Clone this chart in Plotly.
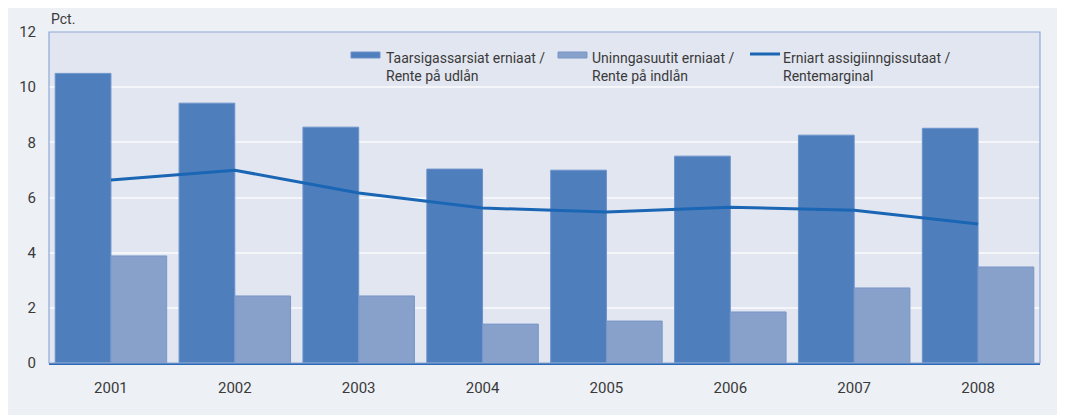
import plotly.graph_objects as go

years = ["2001", "2002", "2003", "2004", "2005", "2006", "2007", "2008"]
lending_rate = [10.5, 9.42, 8.55, 7.03, 6.99, 7.5, 8.26, 8.51]
deposit_rate = [3.88, 2.43, 2.43, 1.41, 1.52, 1.85, 2.72, 3.48]
margin = [6.63, 6.99, 6.16, 5.62, 5.47, 5.65, 5.54, 5.04]

names = [
    "Taarsigassarsiat erniaat /<br>Rente på udlån",
    "Uninngasuutit erniaat /<br>Rente på indlån",
    "Erniart assigiinngissutaat /<br>Rentemarginal",
]
y_ticks = [0, 2, 4, 6, 8, 10, 12]

FONT = "Roboto, Open Sans, sans-serif"
TXT = "#3a3a3a"
C_DARK, C_DARK_LINE = "#4f7ebd", "#6b93cc"
C_LIGHT, C_LIGHT_LINE = "#88a1cb", "#7896c9"
C_LINE = "#1a66b5"
PLOT_BG = "#e2e6f0"

W, H = 1055, 407
ML, MR, MT, MB = 41, 23, 24, 52
PW, PH = W - ML - MR, H - MT - MB


def px(x):
    return (x - ML) / PW


def py(y):
    return 1 - (y - MT) / PH


fig = go.Figure()
fig.add_trace(go.Bar(x=years, y=lending_rate, name=names[0],
                     marker=dict(color=C_DARK, line=dict(color=C_DARK_LINE, width=1))))
fig.add_trace(go.Bar(x=years, y=deposit_rate, name=names[1],
                     marker=dict(color=C_LIGHT, line=dict(color=C_LIGHT_LINE, width=1))))
fig.add_trace(go.Scatter(x=years, y=margin, name=names[2], mode="lines",
                         line=dict(color=C_LINE, width=3)))

# Legend (drawn manually to get the wide rectangular keys)
leg_sym_x = [550, 750, 742]
shapes = [
    # legend background hiding gridline
    dict(type="rect", xref="paper", yref="paper", layer="between",
         x0=px(318), x1=px(977), y0=py(86), y1=py(32),
         fillcolor=PLOT_BG, line=dict(width=0)),
    # plot border
    dict(type="rect", xref="paper", yref="paper", layer="above",
         x0=0, x1=1, y0=0, y1=1, fillcolor="rgba(0,0,0,0)",
         line=dict(color="#8fa8d6", width=1.2)),
    # keys
    dict(type="rect", xref="paper", yref="paper", layer="above",
         x0=px(343), x1=px(372), y0=py(50), y1=py(44),
         fillcolor=C_DARK, line=dict(color=C_DARK_LINE, width=1)),
    dict(type="rect", xref="paper", yref="paper", layer="above",
         x0=px(550), x1=px(579), y0=py(50), y1=py(44),
         fillcolor=C_LIGHT, line=dict(color=C_LIGHT_LINE, width=1)),
    dict(type="line", xref="paper", yref="paper", layer="above",
         x0=px(742), x1=px(772), y0=py(46), y1=py(46),
         line=dict(color=C_LINE, width=3)),
]

annotations = [
    dict(text="Pct.", xref="paper", yref="paper", x=0, y=1, xanchor="left",
         yanchor="bottom", showarrow=False, yshift=3,
         font=dict(family=FONT, size=14, color=TXT)),
]
for name, tx in zip(names, [378, 584, 775]):
    annotations.append(dict(text=name, xref="paper", yref="paper", x=px(tx), y=py(59.5),
                            xanchor="left", yanchor="middle", align="left",
                            showarrow=False, xshift=-2,
                            font=dict(family=FONT, size=14, color=TXT)))

fig.update_layout(
    width=W, height=H,
    margin=dict(l=ML, r=MR, t=MT, b=MB),
    paper_bgcolor="#edf0f5",
    plot_bgcolor=PLOT_BG,
    barmode="group", bargap=0.1, bargroupgap=0,
    font=dict(family=FONT, size=15, color=TXT),
    showlegend=False,
    xaxis=dict(type="category", showgrid=False, ticks="", ticklabelstandoff=10,
               showline=True, linecolor="#2a6ab5", linewidth=1.5,
               tickfont=dict(size=15)),
    yaxis=dict(range=[0, 12], tickvals=y_ticks, showgrid=True, gridcolor="#f4f6fa",
               gridwidth=1.5, zeroline=False, ticks="", ticklabelstandoff=12,
               tickfont=dict(size=15)),
    shapes=shapes,
    annotations=annotations,
)

fig.write_html("out.html")
